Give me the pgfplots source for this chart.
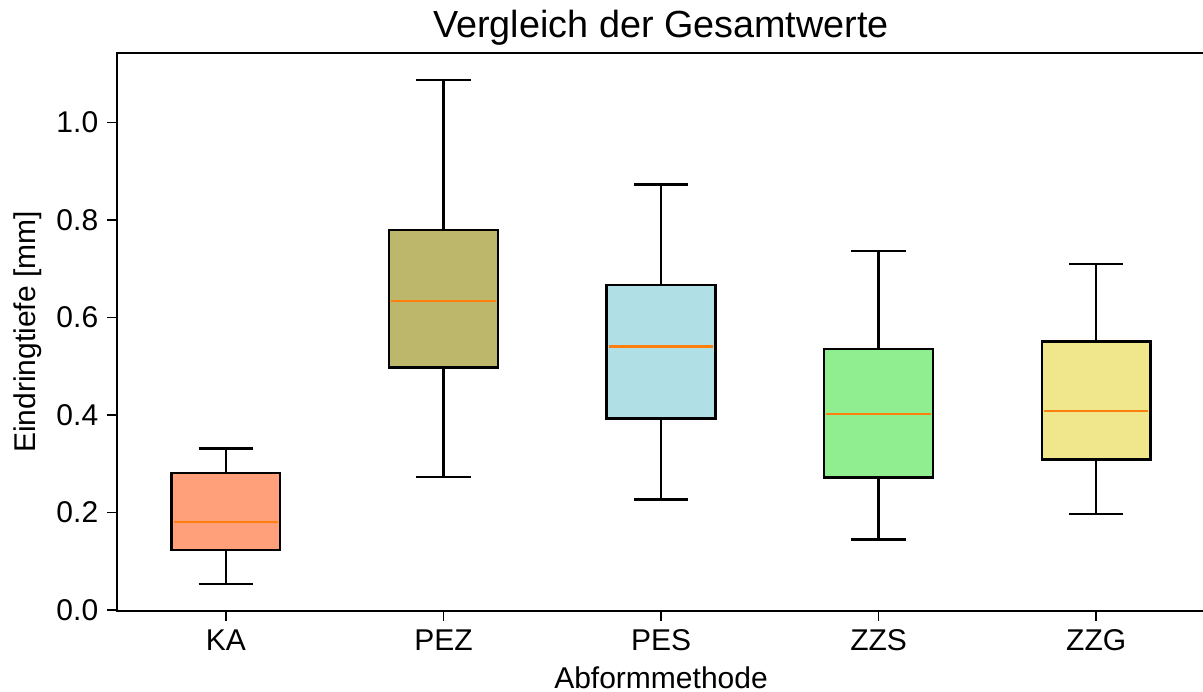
\documentclass[border=0pt]{standalone}
\usepackage{fontspec}
\setmainfont{Liberation Sans}
\usepackage{pgfplots}
\pgfplotsset{compat=1.18}
\definecolor{cKA}{HTML}{FFA07A}
\definecolor{cPEZ}{HTML}{BDB76B}
\definecolor{cPES}{HTML}{B0E0E6}
\definecolor{cZZS}{HTML}{90EE90}
\definecolor{cZZG}{HTML}{F0E68C}
\definecolor{cMed}{HTML}{FF7F0E}
\begin{document}
\begin{tikzpicture}
\path[use as bounding box] (-46.8pt,-32.1pt) rectangle (434.2pt,244.3pt);
\begin{axis}[
  scale only axis,
  width=435pt, height=223.1pt,
  xmin=0.5, xmax=5.5, ymin=-0.002, ymax=1.142,
  xtick={1,2,3,4,5},
  xticklabels={KA,PEZ,PES,ZZS,ZZG},
  ytick={0,0.2,0.4,0.6,0.8,1.0},
  yticklabel style={/pgf/number format/.cd, fixed, fixed zerofill, precision=1, assume math mode=true},
  tick pos=left, tick align=outside,
  major tick length=4pt,
  tick style={black, line width=0.6pt},
  axis line style={line width=0.8pt},
  tick label style={font=\fontsize{12}{14}\selectfont},
  label style={font=\fontsize{12}{14}\selectfont},
  xlabel={Abformmethode},
  ylabel={Eindringtiefe [mm]},
  title={Vergleich der Gesamtwerte},
  title style={font=\fontsize{15.1}{18}\selectfont, inner sep=0pt, at={(axis description cs:0.5,1)}, anchor=base, yshift=0.4pt},
  xlabel style={at={(axis description cs:0.5,0)}, anchor=base, inner sep=0pt, yshift=-30.9pt},
  ylabel style={at={(axis description cs:-0.0821,0.5)}, anchor=center, inner sep=0pt},
  unbounded coords=jump,
  every axis plot/.append style={line width=1pt},
]
% boxes (lower quartile to upper quartile)
\addplot[fill=cKA, draw=black] coordinates {(0.75,0.123) (1.25,0.123) (1.25,0.281) (0.75,0.281)} -- cycle;
\addplot[fill=cPEZ, draw=black] coordinates {(1.75,0.497) (2.25,0.497) (2.25,0.779) (1.75,0.779)} -- cycle;
\addplot[fill=cPES, draw=black] coordinates {(2.75,0.393) (3.25,0.393) (3.25,0.666) (2.75,0.666)} -- cycle;
\addplot[fill=cZZS, draw=black] coordinates {(3.75,0.272) (4.25,0.272) (4.25,0.535) (3.75,0.535)} -- cycle;
\addplot[fill=cZZG, draw=black] coordinates {(4.75,0.309) (5.25,0.309) (5.25,0.551) (4.75,0.551)} -- cycle;
% medians
\addplot[cMed, line width=1pt] coordinates {(0.76,0.181) (1.24,0.181) (1.5,nan) (1.76,0.634) (2.24,0.634) (2.5,nan) (2.76,0.540) (3.24,0.540) (3.5,nan) (3.76,0.402) (4.24,0.402) (4.5,nan) (4.76,0.408) (5.24,0.408)};
% whiskers
\addplot[black] coordinates {
 (1,0.281) (1,0.331) (1,nan) (0.875,0.331) (1.125,0.331) (1,nan) (1,0.123) (1,0.053) (1,nan) (0.875,0.053) (1.125,0.053) (1,nan)
 (2,0.779) (2,1.087) (2,nan) (1.875,1.087) (2.125,1.087) (2,nan) (2,0.497) (2,0.273) (2,nan) (1.875,0.273) (2.125,0.273) (2,nan)
 (3,0.666) (3,0.872) (3,nan) (2.875,0.872) (3.125,0.872) (3,nan) (3,0.393) (3,0.227) (3,nan) (2.875,0.227) (3.125,0.227) (3,nan)
 (4,0.535) (4,0.736) (4,nan) (3.875,0.736) (4.125,0.736) (4,nan) (4,0.272) (4,0.145) (4,nan) (3.875,0.145) (4.125,0.145) (4,nan)
 (5,0.551) (5,0.709) (5,nan) (4.875,0.709) (5.125,0.709) (5,nan) (5,0.309) (5,0.197) (5,nan) (4.875,0.197) (5.125,0.197)
};
\end{axis}
\end{tikzpicture}
\end{document}
